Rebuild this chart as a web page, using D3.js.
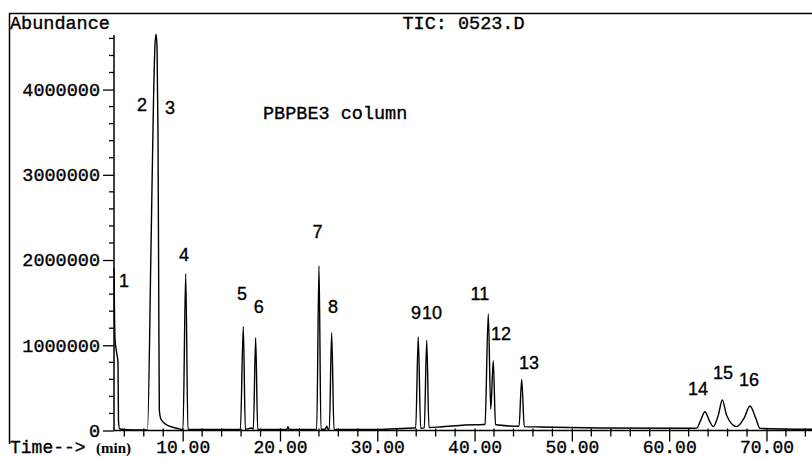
<!DOCTYPE html>
<html>
<head>
<meta charset="utf-8">
<script src="https://cdn.jsdelivr.net/npm/d3@7"></script>
<style>
  body { margin: 0; background: #fff; }
  svg { display: block; }
</style>
</head>
<body>
<svg id="chart"></svg>
<script>
// TIC trace (minutes, abundance)
const traceTime = [
  2.94, 3.04, 3.20, 3.35, 3.40, 3.50, 3.97, 5.61,
  6.38, 6.74, 7.00, 7.15, 7.26, 7.36, 7.46, 7.54, 7.60, 7.72, 7.98, 8.39, 8.90, 9.52, 10.03,
  10.31, 10.54, 10.70,
  15.93, 16.23, 16.44,
  17.10, 17.26, 17.50, 17.71,
  20.70, 20.82, 20.94,
  23.77, 24.01, 24.21, 24.65, 24.80, 24.95, 25.07, 25.31, 25.55,
  30.00, 33.87, 33.95, 34.21, 34.46, 34.83, 35.08, 35.31,
  36.45, 39.01, 40.97, 41.07, 41.41, 41.66, 41.92, 42.15,
  43.63, 44.57, 44.84, 45.11,
  46.72, 52.89, 62.14, 62.83, 63.20, 63.68, 64.15, 64.53,
  65.05, 65.46, 65.90, 66.94,
  67.70, 68.30, 68.90, 69.33, 74.70
];
const traceAbundance = [
  1905000, 1084000, 920000, 800000, 120000, 23000, 12000, 6000,
  6000, 2120000, 3870000, 4520000, 4650000, 4520000, 3520000, 1530000, 240000, 147000, 100000, 64000, 41000, 23000, 12000,
  1840000, 12000, 12000,
  12000, 1217000, 12000,
  30000, 15000, 1088000, 12000,
  12000, 45000, 12000,
  12000, 1930000, 15000, 15000, 50000, 15000, 15000, 1147000, 15000,
  12000, 30000, 30000, 1100000, 25000, 30000, 1060000, 35000,
  41000, 64000, 70000, 75000, 1366000, 250000, 818000, 70000,
  53000, 50000, 600000, 45000,
  41000, 30000, 26000, 28000, 110000, 220000, 110000, 45000,
  180000, 358000, 180000, 45000,
  145000, 287000, 145000, 25000, 14000
];

// peak numbers and where they sit (minutes, abundance)
const peakNames = ["1", "2", "3", "4", "5", "6", "7", "8", "9", "10", "11", "12", "13", "14", "15", "16"];
const peakLabelTime = [3.97, 5.82, 8.69, 10.13, 16.09, 17.81, 23.85, 25.45, 33.98, 35.62, 40.55, 42.71, 45.59, 62.96, 65.53, 68.20];
const peakLabelAbundance = [1760000, 3820000, 3790000, 2060000, 1610000, 1460000, 2340000, 1450000, 1390000, 1390000, 1610000, 1140000, 800000, 490000, 680000, 600000];

const timeMajorTicks = [10, 20, 30, 40, 50, 60, 70];
const timeMinorTicks = [4, 6, 8, 12, 14, 16, 18, 22, 24, 26, 28, 32, 34, 36, 38, 42, 44, 46, 48, 52, 54, 56, 58, 62, 64, 66, 68, 72, 74];
const abundanceMajorTicks = [0, 1000000, 2000000, 3000000, 4000000];
const abundanceMinorTicks = [200000, 400000, 600000, 800000, 1200000, 1400000, 1600000, 1800000,
  2200000, 2400000, 2600000, 2800000, 3200000, 3400000, 3600000, 3800000, 4200000, 4400000, 4600000];

const width = 812;
const height = 458;
const monoFont = "'Courier New', 'Liberation Mono', monospace";

const svg = d3.select("#chart").attr("width", width).attr("height", height);

const x = d3.scaleLinear().domain([2.94, 74.7]).range([114, 812.2]);
const y = d3.scaleLinear().domain([0, 4640000]).range([430.5, 35]);

// scanned text looks heavier, thicken it a bit
const inkText = sel => sel.attr("fill", "#000").attr("stroke", "#000").attr("stroke-width", 0.35);

// frame lines (top and left)
svg.append("line")
  .attr("x1", 9).attr("x2", width).attr("y1", 13.5).attr("y2", 13.5)
  .attr("stroke", "#000").attr("stroke-width", 1.5);
svg.append("line")
  .attr("x1", 9.5).attr("x2", 9.5).attr("y1", 13).attr("y2", 444)
  .attr("stroke", "#000").attr("stroke-width", 1.5);

// y axis
const yAxis = svg.append("g")
  .attr("transform", "translate(114,0)")
  .call(d3.axisLeft(y).tickValues(abundanceMajorTicks).tickSize(11).tickPadding(3).tickFormat(d3.format("d")))
  .call(g => g.select(".domain").attr("d", `M0,${y(0)}V35`).attr("stroke-width", 1.5))
  .call(g => g.selectAll(".tick line").attr("stroke-width", 1.3))
  .call(g => g.selectAll("text").attr("font-family", monoFont).attr("font-size", "18.5px").call(inkText));

yAxis.selectAll(".minor")
  .data(abundanceMinorTicks)
  .enter()
  .append("line")
  .attr("class", "minor")
  .attr("x1", -5).attr("x2", 0)
  .attr("y1", d => y(d)).attr("y2", d => y(d))
  .attr("stroke", "#000").attr("stroke-width", 1.3);

// x axis (labels sit right at the bottom edge, as in the scan)
const xAxis = svg.append("g")
  .attr("transform", `translate(0,${y(0)})`)
  .call(d3.axisBottom(x).tickValues(timeMajorTicks).tickSize(11).tickFormat(d3.format(".2f")))
  .call(g => g.select(".domain").attr("d", `M114,0H${width}`).attr("stroke-width", 1.5))
  .call(g => g.selectAll(".tick line").attr("y1", -2).attr("stroke-width", 1.3))
  .call(g => g.selectAll("text").attr("y", 22).attr("dy", null)
    .attr("font-family", monoFont).attr("font-size", "18px").call(inkText));

xAxis.selectAll(".minor")
  .data(timeMinorTicks)
  .enter()
  .append("line")
  .attr("class", "minor")
  .attr("x1", d => x(d)).attr("x2", d => x(d))
  .attr("y1", -2).attr("y2", 6)
  .attr("stroke", "#000").attr("stroke-width", 1.3);

// trace
const points = traceTime.map((t, i) => [t, traceAbundance[i]]);
const line = d3.line()
  .x(d => x(d[0]))
  .y(d => y(d[1]))
  .curve(d3.curveMonotoneX);

svg.append("path")
  .datum(points)
  .attr("d", line)
  .attr("fill", "none")
  .attr("stroke", "#000")
  .attr("stroke-width", 1.4)
  .attr("stroke-linejoin", "round");

// peak numbers
svg.selectAll(".peak-label")
  .data(peakNames)
  .enter()
  .append("text")
  .attr("class", "peak-label")
  .attr("x", (d, i) => x(peakLabelTime[i]))
  .attr("y", (d, i) => y(peakLabelAbundance[i]))
  .attr("dy", "0.36em")
  .attr("text-anchor", "middle")
  .attr("font-family", "'Liberation Sans', Arial, sans-serif")
  .attr("font-size", "18px")
  .call(inkText)
  .text(d => d);

// texts
svg.append("text")
  .attr("x", 10).attr("y", 29)
  .attr("font-family", monoFont).attr("font-size", "18.5px")
  .call(inkText)
  .text("Abundance");

svg.append("text")
  .attr("x", 463.5).attr("y", 29)
  .attr("text-anchor", "middle")
  .attr("font-family", monoFont).attr("font-size", "18.5px")
  .call(inkText)
  .text("TIC: 0523.D");

svg.append("text")
  .attr("x", 263).attr("y", 119)
  .attr("font-family", monoFont).attr("font-size", "18.5px")
  .call(inkText)
  .text("PBPBE3 column");

svg.append("text")
  .attr("x", 10).attr("y", 452.5)
  .attr("font-family", monoFont).attr("font-size", "18px")
  .call(inkText)
  .text("Time-->");

svg.append("text")
  .attr("x", 96).attr("y", 452.5)
  .attr("font-family", "'Liberation Serif', 'Times New Roman', serif")
  .attr("font-weight", "bold")
  .attr("font-size", "15px")
  .attr("fill", "#000")
  .text("(min)");
</script>
</body>
</html>
